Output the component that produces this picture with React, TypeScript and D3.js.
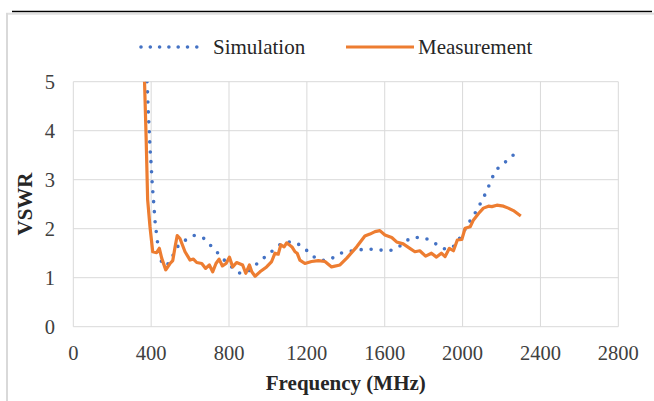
import React from 'react';
import * as d3 from 'd3';

const xTicks = [0, 400, 800, 1200, 1600, 2000, 2400, 2800];
const yTicks = [0, 1, 2, 3, 4, 5];
const seriesNames = ['Simulation', 'Measurement'];
const xTitle = 'Frequency (MHz)';
const yTitle = 'VSWR';

const simFreq = [376, 380, 385, 390, 395, 400, 405, 413, 421, 427, 434, 445, 456, 472, 490, 509, 534, 574, 622, 671, 707, 743, 778, 820, 862, 905, 951, 990, 1030, 1075, 1125, 1173, 1213, 1259, 1302, 1348, 1396, 1447, 1498, 1553, 1605, 1656, 1699, 1744, 1795, 1826, 1872, 1918, 1956, 1987, 2016, 2043, 2072, 2096, 2119, 2141, 2163, 2196, 2240, 2288];
const simVswr = [5.2, 4.9, 4.4, 4.0, 3.6, 3.3, 2.95, 2.53, 2.11, 1.91, 1.69, 1.45, 1.3, 1.24, 1.3, 1.43, 1.62, 1.76, 1.86, 1.8, 1.65, 1.5, 1.35, 1.2, 1.09, 1.15, 1.31, 1.44, 1.57, 1.7, 1.73, 1.64, 1.51, 1.37, 1.35, 1.44, 1.53, 1.55, 1.58, 1.58, 1.55, 1.59, 1.71, 1.82, 1.82, 1.77, 1.67, 1.58, 1.65, 1.82, 2.01, 2.19, 2.37, 2.55, 2.73, 2.93, 3.13, 3.29, 3.42, 3.63];

const measFreq = [363, 366, 374, 382, 394, 408, 428, 442, 454, 475, 497, 511, 523, 534, 548, 574, 600, 617, 634, 660, 680, 699, 716, 733, 749, 766, 785, 802, 819, 839, 870, 886, 905, 917, 934, 959, 993, 1019, 1036, 1053, 1066, 1083, 1096, 1110, 1125, 1139, 1150, 1164, 1190, 1224, 1259, 1293, 1327, 1370, 1405, 1456, 1498, 1524, 1550, 1575, 1601, 1636, 1661, 1695, 1729, 1755, 1780, 1810, 1840, 1866, 1891, 1910, 1932, 1953, 1973, 1996, 2013, 2039, 2056, 2082, 2107, 2133, 2150, 2176, 2210, 2235, 2261, 2299];
const measVswr = [5.3, 5.0, 3.88, 2.59, 2.04, 1.53, 1.51, 1.6, 1.4, 1.16, 1.29, 1.35, 1.63, 1.86, 1.8, 1.53, 1.36, 1.38, 1.31, 1.29, 1.19, 1.26, 1.12, 1.29, 1.38, 1.24, 1.29, 1.42, 1.22, 1.31, 1.26, 1.09, 1.26, 1.12, 1.03, 1.12, 1.22, 1.33, 1.5, 1.48, 1.67, 1.63, 1.71, 1.67, 1.62, 1.53, 1.5, 1.36, 1.29, 1.33, 1.35, 1.33, 1.22, 1.26, 1.4, 1.63, 1.85, 1.89, 1.94, 1.96, 1.87, 1.82, 1.73, 1.69, 1.6, 1.53, 1.55, 1.44, 1.5, 1.42, 1.5, 1.43, 1.6, 1.55, 1.77, 1.78, 2.01, 2.04, 2.18, 2.31, 2.42, 2.46, 2.45, 2.48, 2.46, 2.42, 2.37, 2.26];

const BLUE = '#4472C4';
const ORANGE = '#ED7D31';
const GRID = '#d9d9d9';
const FONT = "'Liberation Serif', 'Times New Roman', serif";

export default function App() {
  const W = 654, H = 401;
  const left = 73.3, right = 618.3, top = 81.7, bottom = 326.7;
  const x = d3.scaleLinear().domain([0, 2800]).range([left, right]);
  const y = d3.scaleLinear().domain([0, 5]).range([bottom, top]);

  const sim: [number, number][] = simFreq.map((f, i) => [f, simVswr[i]]);
  const meas: [number, number][] = measFreq.map((f, i) => [f, measVswr[i]]);

  const simLine = d3.line<[number, number]>().x(d => x(d[0])).y(d => y(d[1])).curve(d3.curveMonotoneX);
  const measLine = d3.line<[number, number]>().x(d => x(d[0])).y(d => y(d[1]));

  return (
    <div style={{ position: 'fixed', left: 0, top: 0 }}>
      <svg width={W} height={H} style={{ display: 'block', background: '#fff' }}>
        <defs>
          <clipPath id="plotClip">
            <rect x={left} y={top} width={right - left} height={bottom - top} />
          </clipPath>
        </defs>
        {/* outer frame */}
        <line x1={12} x2={652} y1={11.5} y2={11.5} stroke="#000" strokeWidth={1.5} />
        <line x1={6} x2={654} y1={13.8} y2={13.8} stroke="#e0e0e0" strokeWidth={2} />
        <line x1={7} x2={7} y1={13} y2={401} stroke="#d9d9d9" strokeWidth={2} />

        {/* grid */}
        {xTicks.map(t => (
          <line key={'gx' + t} x1={x(t)} x2={x(t)} y1={top} y2={bottom} stroke={GRID} strokeWidth={1} />
        ))}
        {yTicks.map(t => (
          <line key={'gy' + t} x1={left} x2={right} y1={y(t)} y2={y(t)} stroke={GRID} strokeWidth={1} />
        ))}

        {/* tick labels */}
        {xTicks.map(t => (
          <text key={'tx' + t} x={x(t)} y={360} textAnchor="middle" fontFamily={FONT} fontSize={20.5} fill="#404040">{t}</text>
        ))}
        {yTicks.map(t => (
          <text key={'ty' + t} x={55} y={y(t) + 7} textAnchor="end" fontFamily={FONT} fontSize={20.5} fill="#404040">{t}</text>
        ))}

        {/* series */}
        <g clipPath="url(#plotClip)">
          <path d={simLine(sim) || ''} fill="none" stroke={BLUE} strokeWidth={3.6} strokeLinecap="round" strokeDasharray="0 10" />
          <path d={measLine(meas) || ''} fill="none" stroke={ORANGE} strokeWidth={3.2} strokeLinejoin="round" />
        </g>

        {/* axis titles */}
        <text x={(left + right) / 2} y={390} textAnchor="middle" fontFamily={FONT} fontSize={21} fontWeight="bold" fill="#262626">{xTitle}</text>
        <text transform={`translate(32,${204}) rotate(-90)`} textAnchor="middle" fontFamily={FONT} fontSize={21} fontWeight="bold" fill="#262626">{yTitle}</text>

        {/* legend */}
        <line x1={141} x2={206} y1={47} y2={47} stroke={BLUE} strokeWidth={3.6} strokeLinecap="round" strokeDasharray="0 9.3" />
        <text x={213} y={54} fontFamily={FONT} fontSize={21} fill="#262626">{seriesNames[0]}</text>
        <line x1={346} x2={414} y1={47} y2={47} stroke={ORANGE} strokeWidth={3.2} />
        <text x={418} y={54} fontFamily={FONT} fontSize={21} fill="#262626">{seriesNames[1]}</text>
      </svg>
    </div>
  );
}
